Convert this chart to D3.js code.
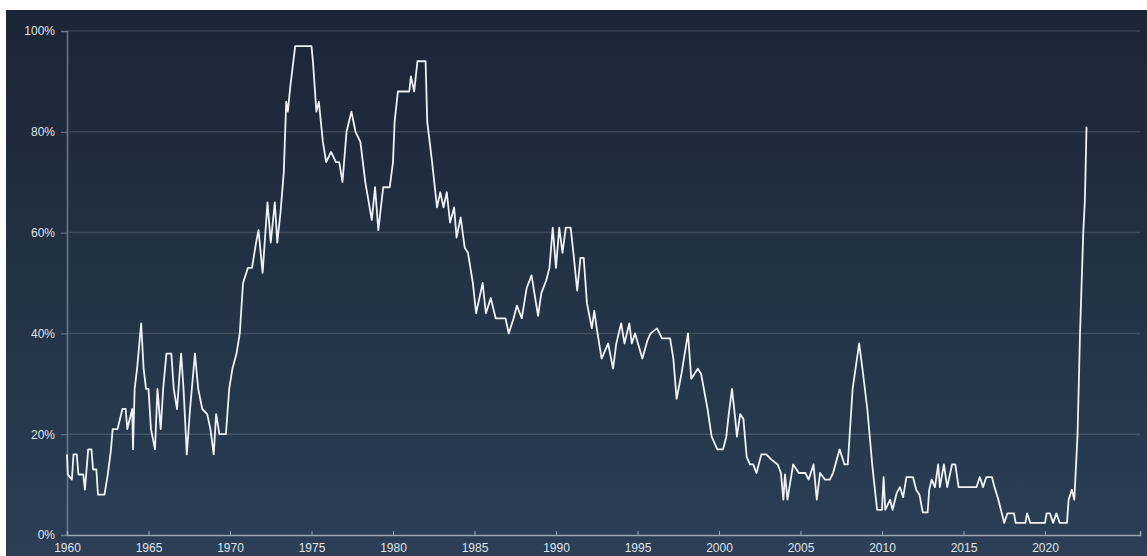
<!DOCTYPE html>
<html>
<head>
<meta charset="utf-8">
<script src="https://cdn.jsdelivr.net/npm/d3@7"></script>
<style>
  body { margin: 0; background: #ffffff; }
  svg { display: block; }
</style>
</head>
<body>
<div id="chart"></div>
<script>
// values: [year, percent]
const years = [
  1960.00, 1960.05, 1960.30, 1960.40, 1960.60, 1960.70, 1961.00, 1961.10, 1961.30, 1961.50,
  1961.60, 1961.80, 1961.90, 1962.30, 1962.50, 1962.70, 1962.80, 1963.10, 1963.40, 1963.60,
  1963.70, 1964.00, 1964.05, 1964.15, 1964.30, 1964.55, 1964.70, 1964.85, 1965.00, 1965.15,
  1965.40, 1965.55, 1965.75, 1965.90, 1966.10, 1966.40, 1966.55, 1966.75, 1967.00, 1967.15,
  1967.35, 1967.55, 1967.85, 1968.05, 1968.30, 1968.60, 1968.80, 1969.00, 1969.15, 1969.35,
  1969.75, 1969.95, 1970.15, 1970.40, 1970.60, 1970.80, 1971.10, 1971.35, 1971.60, 1971.75,
  1972.00, 1972.30, 1972.50, 1972.75, 1972.90, 1973.10, 1973.30, 1973.45, 1973.55, 1973.70,
  1974.00, 1975.00, 1975.10, 1975.30, 1975.45, 1975.70, 1975.90, 1976.20, 1976.50, 1976.70,
  1976.90, 1977.15, 1977.45, 1977.70, 1978.00, 1978.30, 1978.70, 1978.90, 1979.10, 1979.40,
  1979.80, 1980.00, 1980.10, 1980.30, 1981.00, 1981.10, 1981.30, 1981.50, 1982.00, 1982.10,
  1982.40, 1982.70, 1982.90, 1983.10, 1983.30, 1983.50, 1983.75, 1983.90, 1984.15, 1984.40,
  1984.60, 1984.90, 1985.10, 1985.50, 1985.70, 1986.00, 1986.30, 1986.90, 1987.10, 1987.40,
  1987.60, 1987.90, 1988.20, 1988.50, 1988.90, 1989.10, 1989.40, 1989.60, 1989.80, 1990.00,
  1990.20, 1990.40, 1990.60, 1990.90, 1991.10, 1991.30, 1991.50, 1991.70, 1991.90, 1992.20,
  1992.35, 1992.50, 1992.80, 1993.20, 1993.50, 1993.70, 1994.00, 1994.20, 1994.50, 1994.65,
  1994.85, 1995.30, 1995.60, 1995.80, 1996.20, 1996.50, 1997.00, 1997.20, 1997.40, 1997.70,
  1998.10, 1998.30, 1998.70, 1998.90, 1999.30, 1999.55, 1999.90, 2000.25, 2000.45, 2000.60,
  2000.80, 2001.00, 2001.10, 2001.30, 2001.50, 2001.70, 2001.90, 2002.10, 2002.30, 2002.60,
  2002.90, 2003.20, 2003.60, 2003.80, 2003.95, 2004.05, 2004.20, 2004.55, 2004.90, 2005.30,
  2005.50, 2005.80, 2006.00, 2006.20, 2006.50, 2006.80, 2007.00, 2007.40, 2007.70, 2007.90,
  2008.20, 2008.60, 2008.80, 2009.10, 2009.40, 2009.70, 2010.00, 2010.10, 2010.20, 2010.50,
  2010.65, 2010.90, 2011.10, 2011.30, 2011.50, 2011.90, 2012.10, 2012.30, 2012.50, 2012.80,
  2012.90, 2013.05, 2013.25, 2013.45, 2013.55, 2013.80, 2014.00, 2014.30, 2014.50, 2014.70,
  2015.80, 2016.00, 2016.20, 2016.40, 2016.75, 2016.90, 2017.10, 2017.35, 2017.50, 2017.70,
  2018.10, 2018.20, 2018.80, 2018.90, 2019.10, 2020.00, 2020.10, 2020.30, 2020.50, 2020.70,
  2020.90, 2021.35, 2021.45, 2021.65, 2021.80, 2022.00, 2022.15, 2022.35, 2022.45, 2022.55
];

const values = [
  16, 12, 11, 16, 16, 12, 12, 9, 17, 17,
  13, 13, 8, 8, 12, 17, 21, 21, 25, 25,
  21, 25, 17, 29, 33, 42, 33, 29, 29, 21,
  17, 29, 21, 29, 36, 36, 29, 25, 36, 29,
  16, 25, 36, 29, 25, 24, 21, 16, 24, 20,
  20, 29, 33, 36, 40, 50, 53, 53, 58, 60.5,
  52, 66, 58, 66, 58, 64, 72, 86, 84, 89,
  97, 97, 93.5, 84, 86, 78, 74, 76, 74, 74,
  70, 80, 84, 80, 78, 70, 62.5, 69, 60.5, 69,
  69, 74, 82, 88, 88, 91, 88, 94, 94, 82,
  74, 65, 68, 65, 68, 62, 65, 59, 63, 57,
  56, 50, 44, 50, 44, 47, 43, 43, 40, 43,
  45.5, 43, 49, 51.5, 43.5, 48, 50.5, 53, 61, 53,
  61, 56, 61, 61, 55, 48.5, 55, 55, 46, 41,
  44.5, 41, 35, 38, 33, 38, 42, 38, 42, 38,
  40, 35, 38.5, 40, 41, 39, 39, 35, 27, 32,
  40, 31, 33, 32, 25, 19.5, 17, 17, 19.5, 24,
  29, 23, 19.5, 24, 23, 15.5, 14, 14, 12.3, 16,
  16, 15, 14, 12.3, 7, 12, 7, 14, 12.3, 12.3,
  11, 14, 7, 12.3, 11, 11, 12.3, 17, 14, 14,
  29, 38, 33, 25, 14, 5, 5, 11.5, 5, 7,
  5, 8.3, 9.5, 7.5, 11.5, 11.5, 9, 8, 4.5, 4.5,
  9, 11, 9.5, 14, 9.5, 14, 9.5, 14, 14, 9.5,
  9.5, 11.5, 9.5, 11.5, 11.5, 9.5, 7.5, 4.3, 2.4, 4.3,
  4.3, 2.4, 2.4, 4.3, 2.4, 2.4, 4.3, 4.3, 2.4, 4.3,
  2.4, 2.4, 7, 9, 7, 20, 40, 60, 66.5, 81
];

const xTicks = [1960, 1965, 1970, 1975, 1980, 1985, 1990, 1995, 2000, 2005, 2010, 2015, 2020];
const yTicks = [0, 20, 40, 60, 80, 100];

const width = 1147;
const height = 556;
const margin = { top: 31, right: 7, bottom: 21, left: 67 };

const data = years.map((y, i) => ({ year: y, value: values[i] }));

const svg = d3
  .select("#chart")
  .append("svg")
  .attr("width", width)
  .attr("height", height);

// background gradient
const defs = svg.append("defs");
const grad = defs
  .append("linearGradient")
  .attr("id", "bg")
  .attr("x1", 0).attr("y1", 0)
  .attr("x2", 0).attr("y2", 1);
grad.append("stop").attr("offset", "0%").attr("stop-color", "#1b2535");
grad.append("stop").attr("offset", "100%").attr("stop-color", "#2c3f56");

svg
  .append("rect")
  .attr("x", 6)
  .attr("y", 10)
  .attr("width", width - 6)
  .attr("height", height - 10)
  .attr("fill", "url(#bg)");

const x = d3
  .scaleLinear()
  .domain([1960, 2025.83])
  .range([margin.left, width - margin.right]);

const y = d3
  .scaleLinear()
  .domain([0, 100])
  .range([height - margin.bottom, margin.top]);

// gridlines
svg
  .append("g")
  .selectAll("line")
  .data(yTicks.filter((d) => d > 0))
  .join("line")
  .attr("x1", x(1960))
  .attr("x2", x(2025.83))
  .attr("y1", (d) => y(d))
  .attr("y2", (d) => y(d))
  .attr("stroke", "#ffffff")
  .attr("stroke-opacity", 0.13)
  .attr("stroke-width", 1.5);

const labelFont = "'Liberation Sans', Arial, sans-serif";

// y axis
const yAxis = svg
  .append("g")
  .attr("transform", `translate(${margin.left},0)`)
  .call(
    d3.axisLeft(y)
      .tickValues(yTicks)
      .tickSize(6)
      .tickPadding(6)
      .tickFormat((d) => d + "%")
  );
yAxis.select(".domain").attr("stroke", "#6b7a8c").attr("stroke-width", 1.5);
yAxis.selectAll(".tick line").attr("stroke", "#6b7a8c");
yAxis
  .selectAll("text")
  .attr("fill", "#dfe4ea")
  .style("font-family", labelFont)
  .style("font-size", "12px");

// x axis
const xAxis = svg
  .append("g")
  .attr("transform", `translate(0,${height - margin.bottom})`)
  .call(
    d3.axisBottom(x)
      .tickValues(xTicks)
      .tickSize(-4)
      .tickPadding(0)
      .tickFormat(d3.format("d"))
  );
xAxis.select(".domain").attr("stroke", "#9aa6b4").attr("stroke-width", 1.5);
xAxis.selectAll(".tick line").attr("stroke", "#9aa6b4");
xAxis
  .selectAll("text")
  .attr("y", 17)
  .attr("dy", 0)
  .attr("fill", "#dfe4ea")
  .style("font-family", labelFont)
  .style("font-size", "12px");

// series line
const line = d3
  .line()
  .x((d) => x(d.year))
  .y((d) => y(d.value));

svg
  .append("path")
  .datum(data)
  .attr("d", line)
  .attr("fill", "none")
  .attr("stroke", "#eef1f5")
  .attr("stroke-width", 1.8)
  .attr("stroke-linejoin", "round");
</script>
</body>
</html>
